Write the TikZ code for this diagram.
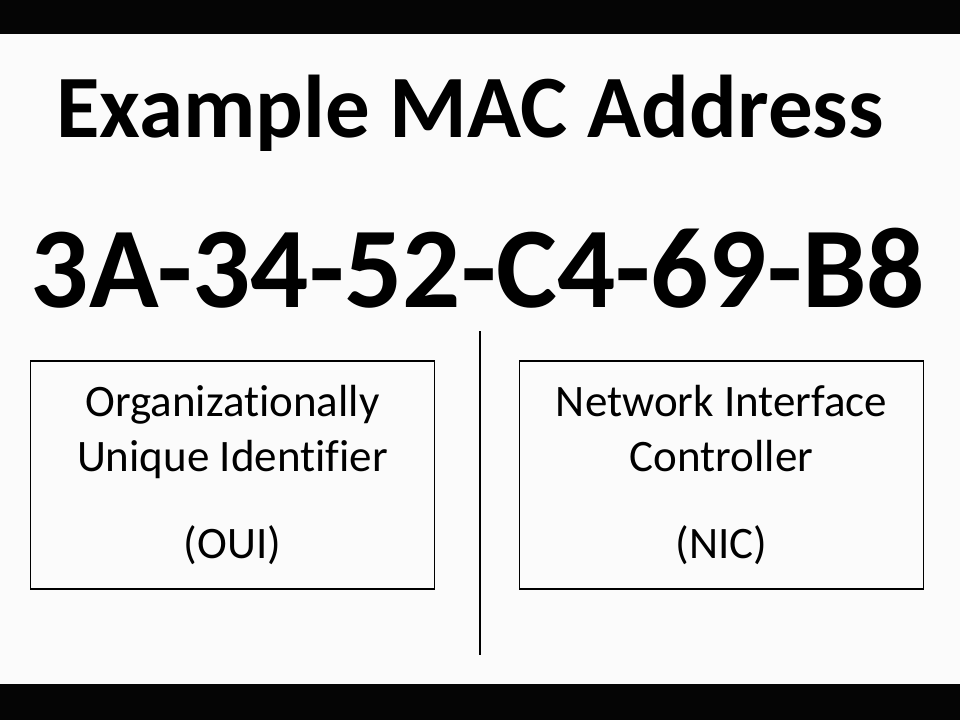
\documentclass[tikz,border=0pt]{standalone}
\usepackage{fontspec}
\setmainfont[Ligatures=NoCommon]{Carlito}
\usepackage{tikz}
\usetikzlibrary{positioning}
\definecolor{bar}{HTML}{050505}
\definecolor{paper}{HTML}{FBFBFB}

\begin{document}
\begin{tikzpicture}[x=1pt, y=-1pt,
  fieldbox/.style={draw, line width=1.6pt, minimum width=404pt, minimum height=228pt,
    align=center, inner sep=0pt, font=\fontsize{45}{55}\selectfont}]
  % Hintergrund und schwarze Balken
  \useasboundingbox (0,0) rectangle (960,720);
  \fill[paper] (0,0) rectangle (960,720);
  \fill[bar] (0,0) rectangle (960,34);
  \fill[bar] (0,684) rectangle (960,720);

  % Überschrift und Adresse
  \node[anchor=base, font=\fontsize{89}{94}\selectfont\bfseries] (title) at (470,137)
    {Example MAC Address};
  \node[anchor=base, font=\fontsize{115}{120}\selectfont\bfseries] (mac) at (478,307)
    {3A-34-52-C4-69-B8};

  % Trennlinie
  \coordinate (top) at (480,331);
  \coordinate (bottom) at (480,655);
  \draw[line width=1.8pt] (top) -- (bottom);

  % Die beiden Teile
  \node[fieldbox] (oui) at (232.5,475)
    {Organizationally\\Unique Identifier\\[32pt](OUI)};
  \node[fieldbox] (nic) at (721.5,475)
    {Network Interface\\Controller\\[32pt](NIC)};
\end{tikzpicture}
\end{document}
